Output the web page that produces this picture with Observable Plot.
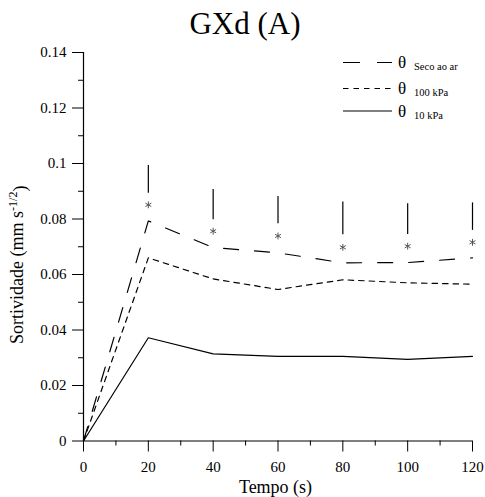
<!DOCTYPE html>
<html>
<head>
<meta charset="utf-8">
<script src="https://cdn.jsdelivr.net/npm/d3@7"></script>
<script src="https://cdn.jsdelivr.net/npm/@observablehq/plot@0.6"></script>
<style>
  html, body { margin: 0; padding: 0; background: white; }
  #chart { width: 485px; height: 497px; }
  #chart svg, #chart svg text, #chart svg tspan { font-family: "Liberation Serif", serif !important; }
</style>
</head>
<body>
<div id="chart"></div>
<script>
// ---- data ----
const time = [0, 20, 40, 60, 80, 100, 120];
const seco = [0, 0.0793, 0.0697, 0.0678, 0.0642, 0.0643, 0.0660];
const kpa100 = [0, 0.0660, 0.0584, 0.0546, 0.0581, 0.0570, 0.0565];
const kpa10 = [0, 0.0372, 0.0314, 0.0305, 0.0305, 0.0294, 0.0305];
const errTime = [20, 40, 60, 80, 100, 120];
const errLow = [0.0893, 0.0797, 0.0783, 0.0743, 0.0744, 0.0759];
const errHigh = [0.0993, 0.0906, 0.0881, 0.0861, 0.0855, 0.0858];
const starY = [0.0851, 0.0756, 0.0739, 0.0698, 0.0702, 0.0716];
const xTicks = [0, 20, 40, 60, 80, 100, 120];
const xMinor = [10, 30, 50, 70, 90, 110];
const yTicks = [0, 0.02, 0.04, 0.06, 0.08, 0.1, 0.12, 0.14];
const yMinor = [0.01, 0.03, 0.05, 0.07, 0.09, 0.11, 0.13];
const title = "GXd (A)";
const xLabel = "Tempo (s)";
const yLabel = "Sortividade (mm s-1/2)";
const seriesNames = ["Seco ao ar", "100 kPa", "10 kPa"];
const seriesDash = ["15,16", "5.5,5", null];

const rows = (vals) => time.map((t, i) => ({t, v: vals[i]}));
const errRows = errTime.map((t, i) => ({t, lo: errLow[i], hi: errHigh[i], s: starY[i]}));

const plot = Plot.plot({
  width: 485,
  height: 497,
  marginLeft: 83,
  marginRight: 13,
  marginTop: 52,
  marginBottom: 56.5,
  x: {domain: [0, 120]},
  y: {domain: [0, 0.14]},
  style: {background: "white", color: "black"},
  marks: [
    Plot.axisX(xTicks, {tickSize: 11, tickPadding: 9, fontSize: 15, label: null, stroke: "black"}),
    Plot.axisX(xMinor, {tickSize: 5, tickFormat: () => "", label: null, stroke: "black"}),
    Plot.axisY(yTicks, {tickSize: 11, tickPadding: 6, fontSize: 15, label: null, stroke: "black",
      tickFormat: d => String(+d.toFixed(2))}),
    Plot.axisY(yMinor, {tickSize: 5, tickFormat: () => "", label: null, stroke: "black"}),
    Plot.ruleX([0], {stroke: "black", strokeWidth: 1.2}),
    Plot.ruleY([0], {stroke: "black", strokeWidth: 1.2}),
    Plot.line(rows(seco), {x: "t", y: "v", stroke: "black", strokeWidth: 1.2, strokeDasharray: seriesDash[0]}),
    Plot.line(rows(kpa100), {x: "t", y: "v", stroke: "black", strokeWidth: 1.2, strokeDasharray: seriesDash[1]}),
    Plot.line(rows(kpa10), {x: "t", y: "v", stroke: "black", strokeWidth: 1.2}),
    Plot.ruleX(errRows, {x: "t", y1: "lo", y2: "hi", stroke: "black", strokeWidth: 1.2}),
    Plot.dot(errRows, {x: "t", y: "s", symbol: "asterisk", r: 3.2, stroke: "#555", strokeWidth: 1}),
    Plot.text([title], {frameAnchor: "top", dx: -33, dy: -28, fontSize: 31, lineAnchor: "middle"}),
    Plot.text([xLabel], {frameAnchor: "bottom", dx: -2.5, dy: 46, fontSize: 18, lineAnchor: "middle"}),
    Plot.text([yLabel], {frameAnchor: "left", dx: -66, dy: 18, fontSize: 18, rotate: -90,
      textAnchor: "middle", lineAnchor: "middle"})
  ]
});

document.getElementById("chart").appendChild(plot);

// superscript in y label
const svg = d3.select(plot);
svg.selectAll("text").filter(function() { return this.textContent === yLabel; }).each(function() {
  const t = d3.select(this);
  t.text(null);
  t.append("tspan").text("Sortividade (mm s");
  t.append("tspan").attr("font-size", 12).attr("dy", "-0.5em").text("-1/2");
  t.append("tspan").attr("dy", "0.5em").text(")");
});

// legend (top-right, inside frame)
const legY = [62.5, 88.5, 111];
const leg = svg.append("g").attr("text-anchor", "start");
seriesNames.forEach((name, i) => {
  const y = legY[i];
  const ln = leg.append("line").attr("x1", 343).attr("x2", 392).attr("y1", y).attr("y2", y)
    .attr("stroke", "black").attr("stroke-width", 1.2);
  if (seriesDash[i]) ln.attr("stroke-dasharray", i === 0 ? "17,17" : "5.5,5");
  leg.append("text").attr("x", 398).attr("y", y + 5.6).attr("font-size", 17).text("θ");
  leg.append("text").attr("x", 414).attr("y", y + 7.5).attr("font-size", 10.5).text(name);
});
</script>
</body>
</html>
